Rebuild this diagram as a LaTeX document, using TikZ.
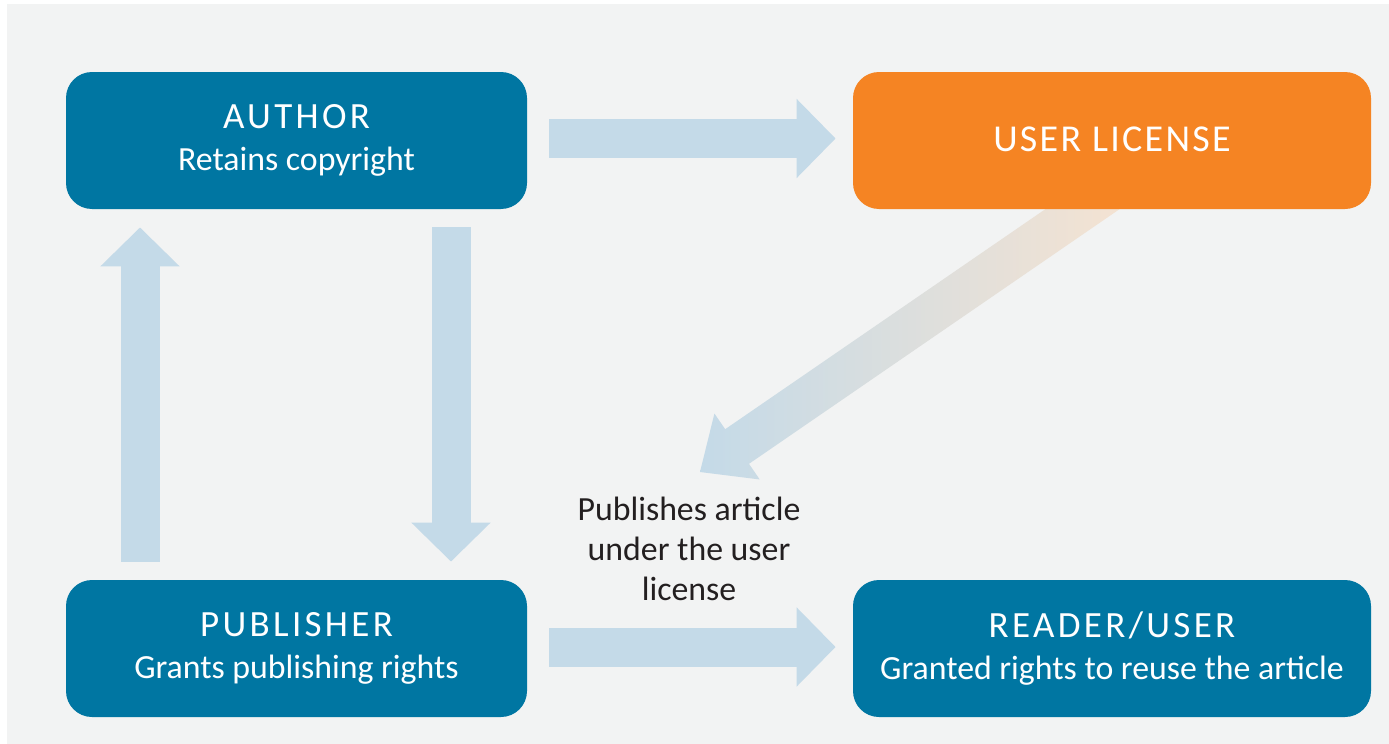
\documentclass[tikz,border=0pt]{standalone}
\usepackage{fontspec}
\setmainfont{Carlito}
\usetikzlibrary{arrows.meta,calc}
\definecolor{boxblue}{HTML}{0076A2}
\definecolor{boxorange}{HTML}{F58423}
\definecolor{arrowblue}{HTML}{C4DAE8}
\definecolor{peach}{HTML}{F6E3D1}
\definecolor{midtone}{HTML}{E3E1DD}
\definecolor{bggray}{HTML}{F2F3F3}
\definecolor{labeltext}{HTML}{231F20}
\newcommand{\boxtitle}[1]{{\fontsize{18.5}{21}\selectfont\addfontfeatures{LetterSpace=9}#1}}
\tikzset{
  box/.style={rounded corners=13pt, minimum height=68.5pt, inner sep=0pt,
    text=white, align=center, font=\fontsize{16.9}{21}\selectfont},
  leftbox/.style={box, fill=boxblue, minimum width=230.5pt},
  rightbox/.style={box, fill=boxblue, minimum width=259pt},
  flow/.style={draw=arrowblue, line width=19.5pt,
    -{Triangle[width=38.5pt,length=19.5pt]}},
  note/.style={text=labeltext, align=center, font=\fontsize{16.9}{20}\selectfont}
}
\begin{document}
\begin{tikzpicture}[x=0.5pt,y=-0.5pt]
\useasboundingbox (0,0) rectangle (1389,744);
\fill[white] (0,0) rectangle (1389,744);
\fill[bggray] (7,4) rectangle (1389,744);

% diagonal shaded arrow (drawn first, behind the licence box)
\coordinate (tip) at (700,472);
\begin{scope}[shift={(tip)}, rotate=34.5]
  \shade[left color=arrowblue, middle color=midtone, right color=peach]
    (0,0) -- (45,-40) -- (45,-21) -- (520,-21) -- (520,21) -- (45,21) -- (45,40) -- cycle;
\end{scope}

\node[leftbox] (author) at (296.5,140.5)
  {\boxtitle{AUTHOR}\\Retains copyright};
\node[rightbox, fill=boxorange] (license) at (1112,140.5)
  {\raisebox{1pt}{\fontsize{19}{21}\selectfont\addfontfeatures{LetterSpace=6}USER LICENSE}};
\node[leftbox] (publisher) at (296.5,648.5)
  {\boxtitle{PUBLISHER}\\Grants publishing rights};
\node[rightbox] (reader) at (1112,648.5)
  {\boxtitle{READER/USER}\\Granted rights to reuse the article};

\node[note] (pubnote) at (689,549) {Publishes article\\under the user\\license};

\draw[flow] ([xshift=11pt,yshift=1pt]author.east) -- ([xshift=-8.5pt,yshift=1pt]license.west);
\draw[flow] ([xshift=11pt,yshift=0.75pt]publisher.east) -- ([xshift=-8.5pt,yshift=0.75pt]reader.west);
\draw[flow] ([xshift=77.25pt,yshift=-9pt]author.south) -- ([xshift=77.25pt,yshift=9pt]publisher.north);
\draw[flow] ([xshift=-78.25pt,yshift=9pt]publisher.north) -- ([xshift=-78.25pt,yshift=-9pt]author.south);
\end{tikzpicture}
\end{document}
